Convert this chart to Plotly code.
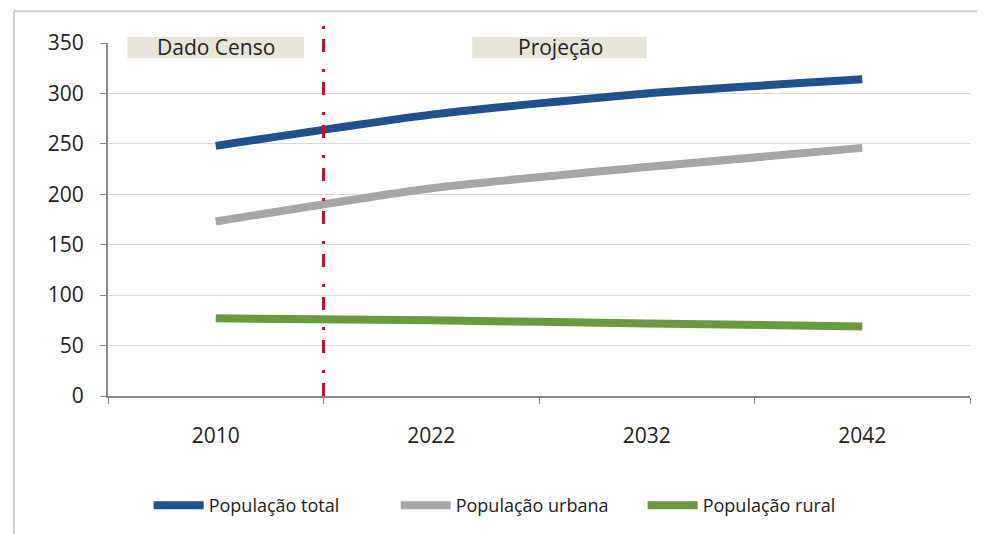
import plotly.graph_objects as go

anos = ["2010", "2022", "2032", "2042"]
pop_total = [248, 279, 300, 314]
pop_urbana = [173, 206, 227, 246]
pop_rural = [77, 75, 72, 69]

nomes = ["População total", "População urbana", "População rural"]
cores = ["#21508f", "#a6a6a9", "#6b9a3e"]
series = [pop_total, pop_urbana, pop_rural]

FONT = "Open Sans"
TXT = "#222222"

fig = go.Figure()
for nome, cor, vals in zip(nomes, cores, series):
    fig.add_trace(go.Scatter(
        x=anos, y=vals, name=nome, mode="lines",
        line=dict(color=cor, width=8, shape="spline", smoothing=0.6),
    ))

# label boxes
fig.add_shape(type="rect", xref="x", yref="paper", x0=-0.41, x1=0.41, y0=0.957, y1=1.017,
              fillcolor="#e7e5da", line=dict(width=0), layer="below")
fig.add_shape(type="rect", xref="x", yref="paper", x0=1.19, x1=2.0, y0=0.957, y1=1.017,
              fillcolor="#e7e5da", line=dict(width=0), layer="below")
fig.add_annotation(x=0.0, y=0.988, xref="x", yref="paper", text="Dado Censo", showarrow=False,
                   xanchor="center", yanchor="middle",
                   font=dict(family=FONT, size=21, color=TXT))
fig.add_annotation(x=1.6, y=0.988, xref="x", yref="paper", text="Projeção", showarrow=False,
                   xanchor="center", yanchor="middle",
                   font=dict(family=FONT, size=21, color=TXT))

# vertical divider
fig.add_shape(type="line", xref="x", yref="paper", x0=0.5, x1=0.5, y0=0, y1=1.06,
              line=dict(color="#c8102e", width=3, dash="13px,10px,3px,17px"))

# outer frame (left / top)
fig.add_shape(type="line", xref="paper", yref="paper", x0=-0.109, x1=-0.109, y0=-0.45, y1=1.09,
              line=dict(color="#d0d0d0", width=2))
fig.add_shape(type="line", xref="paper", yref="paper", x0=-0.109, x1=1.05, y0=1.09, y1=1.09,
              line=dict(color="#d0d0d0", width=2))

fig.update_layout(
    width=977, height=526,
    margin=dict(l=100, r=15, t=35, b=138, autoexpand=False),
    paper_bgcolor="white", plot_bgcolor="white",
    font=dict(family=FONT, color=TXT),
    showlegend=True,
    legend=dict(orientation="h", x=0.477, xanchor="center", y=-0.31, yanchor="middle",
                font=dict(family=FONT, size=18, color=TXT), itemwidth=50,
                entrywidth=182, entrywidthmode="pixels",
                traceorder="normal"),
)
fig.update_xaxes(
    type="category", range=[-0.5, 3.5], tickson="boundaries",
    showline=True, linecolor="#8a8a8a", linewidth=2,
    ticks="outside", ticklen=6, tickcolor="#8a8a8a",
    showgrid=False, tickfont=dict(family=FONT, size=21, color=TXT),
    ticklabelstandoff=20,
)
fig.update_yaxes(
    range=[0, 350], dtick=50,
    showline=True, linecolor="#8a8a8a", linewidth=2,
    ticks="outside", ticklen=6, tickcolor="#8a8a8a",
    showgrid=True, gridcolor="#d9d9d9", gridwidth=1,
    zeroline=False, tickfont=dict(family=FONT, size=21, color=TXT),
    ticklabelstandoff=12,
)

fig.write_html("out.html")
